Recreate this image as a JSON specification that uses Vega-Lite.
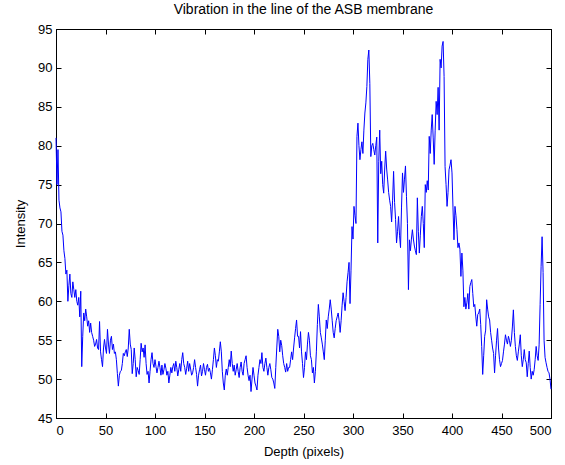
{
"$schema": "https://vega.github.io/schema/vega-lite/v6.json",
"width": 495, "height": 389,
"autosize": "none",
"padding": {"left": 56, "top": 29, "right": 14, "bottom": 47},
"background": "white",
"title": {"text": "Vibration in the line of the ASB membrane", "font": "Liberation Sans", "fontSize": 14, "fontWeight": "normal", "color": "black", "anchor": "middle", "offset": 6},
"config": {"view": {"stroke": "black", "strokeWidth": 1}, "axis": {"domainColor": "black", "tickColor": "black", "labelColor": "black", "titleColor": "black", "labelFont": "Liberation Sans", "titleFont": "Liberation Sans", "labelFontSize": 13, "titleFontSize": 13, "titleFontWeight": "normal", "grid": false, "tickSize": -5}},
"datasets": {"s": [
{"d":0,"v":81},{"d":1,"v":75},{"d":2,"v":79.5},{"d":3,"v":73},{"d":4,"v":72},{"d":5,"v":71.5},{"d":6,"v":69},{"d":7,"v":68.5},{"d":8,"v":66.5},{"d":9,"v":65.5},
{"d":10,"v":63.5},{"d":11,"v":64},{"d":12,"v":60},{"d":13,"v":62},{"d":14,"v":63.5},{"d":15,"v":61},{"d":16,"v":60.5},{"d":17,"v":62.5},{"d":18,"v":61.5},{"d":19,"v":60.5},
{"d":20,"v":61.5},{"d":21,"v":60},{"d":22,"v":59.5},{"d":23,"v":60.5},{"d":24,"v":58},{"d":25,"v":61.3},{"d":26,"v":51.6},{"d":27,"v":55.5},{"d":28,"v":58.5},{"d":29,"v":57.5},
{"d":30,"v":59},{"d":31,"v":58},{"d":32,"v":56.8},{"d":33,"v":57.5},{"d":34,"v":56},{"d":35,"v":57.2},{"d":36,"v":56},{"d":37,"v":55.5},{"d":38,"v":55},{"d":39,"v":54.2},
{"d":40,"v":54.5},{"d":41,"v":55.1},{"d":42,"v":54},{"d":43,"v":53.8},{"d":44,"v":57.4},{"d":45,"v":53.5},{"d":46,"v":52.5},{"d":47,"v":51.6},{"d":48,"v":54},{"d":49,"v":55.1},
{"d":50,"v":54},{"d":51,"v":53.3},{"d":52,"v":56.4},{"d":53,"v":54.5},{"d":54,"v":53.3},{"d":55,"v":55},{"d":56,"v":55.5},{"d":57,"v":53.8},{"d":58,"v":54.5},{"d":59,"v":53.3},
{"d":60,"v":53.5},{"d":61,"v":52.5},{"d":62,"v":50.7},{"d":63,"v":49.1},{"d":64,"v":50.5},{"d":65,"v":51},{"d":66,"v":51.1},{"d":67,"v":52},{"d":68,"v":53.3},{"d":69,"v":53},
{"d":70,"v":53.5},{"d":71,"v":53.8},{"d":72,"v":52.9},{"d":73,"v":54},{"d":74,"v":56.4},{"d":75,"v":54.5},{"d":76,"v":53.8},{"d":77,"v":50.7},{"d":78,"v":52},{"d":79,"v":54},
{"d":80,"v":52.5},{"d":81,"v":50.3},{"d":82,"v":51.5},{"d":83,"v":51.1},{"d":84,"v":50.6},{"d":85,"v":52.5},{"d":86,"v":54.6},{"d":87,"v":53.5},{"d":88,"v":54},{"d":89,"v":52.8},
{"d":90,"v":54.4},{"d":91,"v":52},{"d":92,"v":50.6},{"d":93,"v":51},{"d":94,"v":49.5},{"d":95,"v":51},{"d":96,"v":52.5},{"d":97,"v":53.4},{"d":98,"v":52},{"d":99,"v":51.5},
{"d":100,"v":52.5},{"d":101,"v":51.6},{"d":102,"v":50.8},{"d":103,"v":51.5},{"d":104,"v":52.3},{"d":105,"v":51.5},{"d":106,"v":50.5},{"d":107,"v":51.8},{"d":108,"v":50.6},{"d":109,"v":51.2},
{"d":110,"v":52},{"d":111,"v":51.4},{"d":112,"v":50.5},{"d":113,"v":51},{"d":114,"v":49.5},{"d":115,"v":50.5},{"d":116,"v":51.5},{"d":117,"v":50.8},{"d":118,"v":51.6},{"d":119,"v":52},
{"d":120,"v":51},{"d":121,"v":52.3},{"d":122,"v":51.5},{"d":123,"v":50.4},{"d":124,"v":51.2},{"d":125,"v":52},{"d":126,"v":51},{"d":127,"v":52.5},{"d":128,"v":53.4},{"d":129,"v":52},
{"d":130,"v":51.5},{"d":131,"v":50.6},{"d":132,"v":51.4},{"d":133,"v":52.3},{"d":134,"v":51},{"d":135,"v":52},{"d":136,"v":51.3},{"d":137,"v":50.5},{"d":138,"v":50.8},{"d":139,"v":51.5},
{"d":140,"v":52.5},{"d":141,"v":51.5},{"d":142,"v":50.6},{"d":143,"v":49.1},{"d":144,"v":50.5},{"d":145,"v":51.2},{"d":146,"v":51.8},{"d":147,"v":50.4},{"d":148,"v":51},{"d":149,"v":52},
{"d":150,"v":51.2},{"d":151,"v":50.5},{"d":152,"v":51.5},{"d":153,"v":51.9},{"d":154,"v":51},{"d":155,"v":51.4},{"d":156,"v":50.8},{"d":157,"v":50},{"d":158,"v":51.2},{"d":159,"v":52.5},
{"d":160,"v":54},{"d":161,"v":53},{"d":162,"v":51.5},{"d":163,"v":52.5},{"d":164,"v":52.3},{"d":165,"v":53.5},{"d":166,"v":54.8},{"d":167,"v":53.5},{"d":168,"v":51},{"d":169,"v":49.5},
{"d":170,"v":48.6},{"d":171,"v":50.5},{"d":172,"v":51.3},{"d":173,"v":50.5},{"d":174,"v":51.5},{"d":175,"v":52.5},{"d":176,"v":51.6},{"d":177,"v":53.6},{"d":178,"v":52},{"d":179,"v":51},
{"d":180,"v":51.8},{"d":181,"v":50.5},{"d":182,"v":51.2},{"d":183,"v":52},{"d":184,"v":51},{"d":185,"v":50.2},{"d":186,"v":51.5},{"d":187,"v":52.2},{"d":188,"v":51},{"d":189,"v":50.5},
{"d":190,"v":52},{"d":191,"v":52.5},{"d":192,"v":53},{"d":193,"v":51.5},{"d":194,"v":50.5},{"d":195,"v":49.8},{"d":196,"v":50.5},{"d":197,"v":48.4},{"d":198,"v":50},{"d":199,"v":51.5},
{"d":200,"v":50.5},{"d":201,"v":49.5},{"d":202,"v":49.1},{"d":203,"v":48.6},{"d":204,"v":50.5},{"d":205,"v":51.5},{"d":206,"v":52.5},{"d":207,"v":52},{"d":208,"v":53.4},{"d":209,"v":51.5},
{"d":210,"v":51},{"d":211,"v":52},{"d":212,"v":52.7},{"d":213,"v":51.5},{"d":214,"v":50.5},{"d":215,"v":51.5},{"d":216,"v":52},{"d":217,"v":51.2},{"d":218,"v":50.2},{"d":219,"v":50},
{"d":220,"v":49.5},{"d":221,"v":48.8},{"d":222,"v":51.5},{"d":223,"v":54},{"d":224,"v":56.4},{"d":225,"v":55.5},{"d":226,"v":53.5},{"d":227,"v":55},{"d":228,"v":54.3},{"d":229,"v":53},
{"d":230,"v":52},{"d":231,"v":51.5},{"d":232,"v":50.9},{"d":233,"v":52},{"d":234,"v":51},{"d":235,"v":51.5},{"d":236,"v":51.5},{"d":237,"v":52.5},{"d":238,"v":53.5},{"d":239,"v":52.5},
{"d":240,"v":54},{"d":241,"v":55.3},{"d":242,"v":56.5},{"d":243,"v":57.6},{"d":244,"v":55.5},{"d":245,"v":55.5},{"d":246,"v":54},{"d":247,"v":56.1},{"d":248,"v":53.5},{"d":249,"v":52},
{"d":250,"v":50.2},{"d":251,"v":51.5},{"d":252,"v":53.5},{"d":253,"v":52.5},{"d":254,"v":54.5},{"d":255,"v":56},{"d":256,"v":55},{"d":257,"v":53},{"d":258,"v":52.5},{"d":259,"v":50.8},
{"d":260,"v":51.5},{"d":261,"v":49.5},{"d":262,"v":51},{"d":263,"v":53.5},{"d":264,"v":57},{"d":265,"v":59.6},{"d":266,"v":58},{"d":267,"v":56},{"d":268,"v":55.3},{"d":269,"v":54.5},
{"d":270,"v":53.5},{"d":271,"v":52.5},{"d":272,"v":55},{"d":273,"v":57.6},{"d":274,"v":56.5},{"d":275,"v":58},{"d":276,"v":59},{"d":277,"v":60.2},{"d":278,"v":59},{"d":279,"v":57.5},
{"d":280,"v":56},{"d":281,"v":55.3},{"d":282,"v":56.5},{"d":283,"v":57.5},{"d":284,"v":58},{"d":285,"v":58.5},{"d":286,"v":57.5},{"d":287,"v":56},{"d":288,"v":57.5},{"d":289,"v":59.5},
{"d":290,"v":61.1},{"d":291,"v":60},{"d":292,"v":58.8},{"d":293,"v":60.5},{"d":294,"v":62.5},{"d":295,"v":63.7},{"d":296,"v":65},{"d":297,"v":59.7},{"d":298,"v":64},{"d":299,"v":69.6},
{"d":300,"v":68},{"d":301,"v":72.2},{"d":302,"v":71},{"d":303,"v":70},{"d":304,"v":81.2},{"d":305,"v":82.9},{"d":306,"v":80},{"d":307,"v":78.2},{"d":308,"v":79.5},{"d":309,"v":80.5},
{"d":310,"v":79},{"d":311,"v":82},{"d":312,"v":84.2},{"d":313,"v":85.5},{"d":314,"v":87.6},{"d":315,"v":91.1},{"d":316,"v":92.3},{"d":317,"v":88},{"d":318,"v":78.6},{"d":319,"v":80},
{"d":320,"v":80.3},{"d":321,"v":79.5},{"d":322,"v":78.8},{"d":323,"v":80},{"d":324,"v":81.1},{"d":325,"v":67.5},{"d":326,"v":78},{"d":327,"v":82},{"d":328,"v":76.4},{"d":329,"v":78},
{"d":330,"v":75},{"d":331,"v":73.9},{"d":332,"v":77},{"d":333,"v":79.3},{"d":334,"v":77},{"d":335,"v":75.6},{"d":336,"v":74},{"d":337,"v":73},{"d":338,"v":72.2},{"d":339,"v":70.2},
{"d":340,"v":73},{"d":341,"v":76.7},{"d":342,"v":72.7},{"d":343,"v":70.5},{"d":344,"v":67.5},{"d":345,"v":69},{"d":346,"v":70.9},{"d":347,"v":68.5},{"d":348,"v":66.9},{"d":349,"v":72},
{"d":350,"v":76.5},{"d":351,"v":74},{"d":352,"v":75.7},{"d":353,"v":77.4},{"d":354,"v":73.5},{"d":355,"v":70},{"d":356,"v":61.5},{"d":357,"v":67.9},{"d":358,"v":66.5},{"d":359,"v":68},
{"d":360,"v":69.2},{"d":361,"v":68},{"d":362,"v":67.1},{"d":363,"v":66.5},{"d":364,"v":66},{"d":365,"v":73.3},{"d":366,"v":69},{"d":367,"v":66.2},{"d":368,"v":68.5},{"d":369,"v":70.9},
{"d":370,"v":72.2},{"d":371,"v":70},{"d":372,"v":66.9},{"d":373,"v":75},{"d":374,"v":74},{"d":375,"v":75.5},{"d":376,"v":74.3},{"d":377,"v":81.2},{"d":378,"v":79},{"d":379,"v":82},
{"d":380,"v":84},{"d":381,"v":81},{"d":382,"v":77.6},{"d":383,"v":82},{"d":384,"v":85.7},{"d":385,"v":84},{"d":386,"v":87.5},{"d":387,"v":82},{"d":388,"v":91.1},{"d":389,"v":90},
{"d":390,"v":92.8},{"d":391,"v":93.4},{"d":392,"v":88.9},{"d":393,"v":77.3},{"d":394,"v":75},{"d":395,"v":72.2},{"d":396,"v":74},{"d":397,"v":76.9},{"d":398,"v":77.5},{"d":399,"v":78.2},
{"d":400,"v":76.5},{"d":401,"v":72},{"d":402,"v":67.9},{"d":403,"v":72.2},{"d":404,"v":71},{"d":405,"v":69.2},{"d":406,"v":66.9},{"d":407,"v":67.5},{"d":408,"v":66.7},{"d":409,"v":63.2},
{"d":410,"v":66.2},{"d":411,"v":64},{"d":412,"v":59.3},{"d":413,"v":60.5},{"d":414,"v":59},{"d":415,"v":59.8},{"d":416,"v":61},{"d":417,"v":59},{"d":418,"v":61.9},{"d":419,"v":62.4},
{"d":420,"v":62.8},{"d":421,"v":61},{"d":422,"v":59.3},{"d":423,"v":59.6},{"d":424,"v":58.1},{"d":425,"v":56.8},{"d":426,"v":58.3},{"d":427,"v":58.5},{"d":428,"v":59},{"d":429,"v":57},
{"d":430,"v":54.2},{"d":431,"v":50.6},{"d":432,"v":53},{"d":433,"v":55.5},{"d":434,"v":56.3},{"d":435,"v":60.2},{"d":436,"v":59},{"d":437,"v":58},{"d":438,"v":57.6},{"d":439,"v":56},
{"d":440,"v":55},{"d":441,"v":54},{"d":442,"v":53.3},{"d":443,"v":50.8},{"d":444,"v":53},{"d":445,"v":55},{"d":446,"v":56.5},{"d":447,"v":54},{"d":448,"v":52.5},{"d":449,"v":51.6},
{"d":450,"v":52},{"d":451,"v":52.4},{"d":452,"v":53.5},{"d":453,"v":54.5},{"d":454,"v":55.7},{"d":455,"v":55},{"d":456,"v":54.5},{"d":457,"v":55.5},{"d":458,"v":55},{"d":459,"v":54.2},
{"d":460,"v":55},{"d":461,"v":56.7},{"d":462,"v":58.9},{"d":463,"v":56},{"d":464,"v":54.2},{"d":465,"v":53},{"d":466,"v":52.4},{"d":467,"v":53.5},{"d":468,"v":54.5},{"d":469,"v":55.7},
{"d":470,"v":53},{"d":471,"v":51.6},{"d":472,"v":52.5},{"d":473,"v":53.8},{"d":474,"v":52.5},{"d":475,"v":52.1},{"d":476,"v":50.3},{"d":477,"v":52},{"d":478,"v":53.6},{"d":479,"v":51.5},
{"d":480,"v":50},{"d":481,"v":51},{"d":482,"v":50.5},{"d":483,"v":51.2},{"d":484,"v":52.5},{"d":485,"v":54.2},{"d":486,"v":53},{"d":487,"v":52.4},{"d":488,"v":54.4},{"d":489,"v":59.6},
{"d":490,"v":64.5},{"d":491,"v":68.3},{"d":492,"v":63.7},{"d":493,"v":55},{"d":494,"v":52.8},{"d":495,"v":52.1},{"d":496,"v":51.5},{"d":497,"v":51},{"d":498,"v":50.8},{"d":499,"v":50},
{"d":500,"v":48.7}
]},
"data": {"name": "s"},
"resolve": {"axis": {"x": "independent", "y": "independent"}},
"layer": [
{"mark": {"type": "line", "color": "#0000FF", "strokeWidth": 1, "interpolate": "linear"},
 "encoding": {
  "x": {"field": "d", "type": "quantitative", "scale": {"domain": [0, 500], "nice": false}, "axis": {"title": "Depth (pixels)", "values": [0,50,100,150,200,250,300,350,400,450,500], "labelPadding": 11, "titlePadding": 8}},
  "y": {"field": "v", "type": "quantitative", "scale": {"domain": [45, 95], "nice": false, "zero": false}, "axis": {"title": "Intensity", "values": [45,50,55,60,65,70,75,80,85,90,95], "labelPadding": 9, "titlePadding": 10}}
 }},
{"mark": {"type": "line", "strokeOpacity": 0},
 "encoding": {
  "x": {"field": "d", "type": "quantitative", "axis": {"orient": "top", "title": null, "labels": false, "values": [0,50,100,150,200,250,300,350,400,450,500]}},
  "y": {"field": "v", "type": "quantitative", "axis": {"orient": "right", "title": null, "labels": false, "values": [45,50,55,60,65,70,75,80,85,90,95]}}
 }}
]
}
